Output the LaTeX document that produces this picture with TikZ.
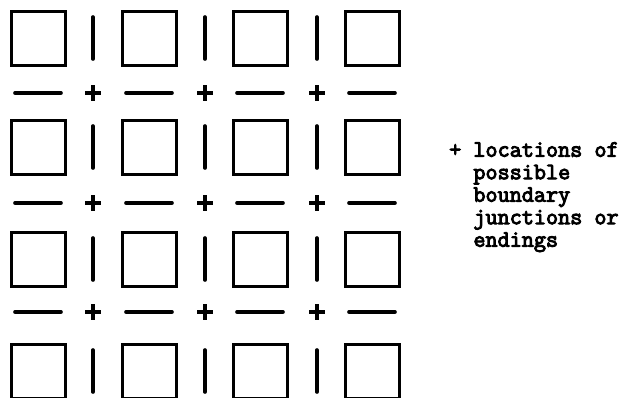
\documentclass[tikz,border=0pt]{standalone}
\usepackage{fontspec}
\setmonofont{Latin Modern Mono}[FakeBold=4]
\usetikzlibrary{positioning}

\begin{document}
\begin{tikzpicture}[
  x=1pt, y=-1pt,
  cell/.style={draw, line width=3pt, minimum size=54pt, inner sep=0pt},
  bar/.style={line width=3.6pt, line cap=round},
  junc/.style={line width=3.2pt},
  legend/.style={font=\ttfamily\fontsize{23.5}{22.5}\selectfont,
                 align=left, inner sep=0pt, anchor=north west},
]
\useasboundingbox (0,0) rectangle (630,397);
\clip (0,0) rectangle (630,397);

% the cells, four by four
\foreach \c/\x in {1/38,2/149,3/260,4/372}
  \foreach \r/\y in {1/38,2/147,3/259,4/371}
    \node[cell] (s\r\c) at (\x,\y) {};

% short boundaries between cells in a row
\foreach \x in {93,205,317}
  \foreach \y in {38,147,259,371}
    \draw[bar] (\x,\y-21) -- (\x,\y+21);

% short boundaries between cells in a column
\foreach \y in {93,203,312}
  \foreach \x in {38,149,260,372}
    \draw[bar] (\x-23,\y) -- (\x+23,\y);

% the junctions
\foreach \x in {93,205,317}
  \foreach \y in {93,203,312}
    \draw[junc] (\x-8,\y) -- (\x+8,\y) (\x,\y-8) -- (\x,\y+8);

\node[legend] (key) at (449,142)
  {+ locations of\\\phantom{+ }possible\\\phantom{+ }boundary\\\phantom{+ }junctions or\\\phantom{+ }endings};

\end{tikzpicture}
\end{document}
